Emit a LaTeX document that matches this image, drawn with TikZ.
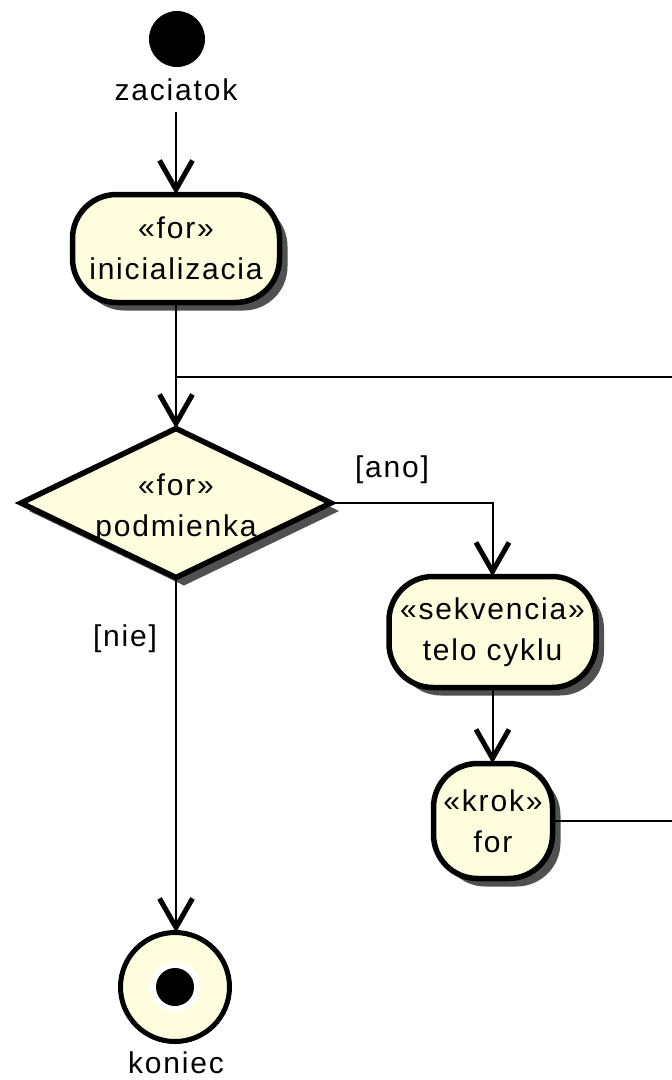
\documentclass[tikz,border=0pt]{standalone}
\usepackage{fontspec}
\setmainfont{Liberation Sans}[LetterSpace=6]
\usetikzlibrary{shapes.geometric,arrows.meta,shadows}

\definecolor{actfill}{HTML}{FEFEDF}
\definecolor{shadowgray}{HTML}{505050}

\begin{document}
\begin{tikzpicture}[x=1pt,y=-1pt,
  every node/.style={font=\fontsize{30}{41}\selectfont, inner sep=0pt, outer sep=0pt},
  conn/.style={line width=2pt, draw=black},
  arr/.style={conn, -{Straight Barb[length=29pt,width=33pt,line width=5pt]}},
  shadowed/.style={drop shadow={shadow xshift=8pt, shadow yshift=-8pt, fill=shadowgray, opacity=1}},
  action/.style={rectangle, rounded corners=44pt, draw, line width=5.5pt, fill=actfill,
    align=center, shadowed},
  decision/.style={diamond, aspect=2.08, draw, line width=5.5pt, fill=actfill,
    shadowed, minimum width=310pt, minimum height=149pt},
  lbl/.style={anchor=base}
]
% page and clipping frame
\useasboundingbox (0,0) rectangle (672,1080);
\fill[white] (0,0) rectangle (672,1080);
\clip (0,0) rectangle (672,1080);

% initial node
\node[circle, fill=black, minimum size=56pt] (start) at (177,39) {};
\node[lbl] (startlbl) at (176,100) {zaciatok};

% actions and decision
\node[action, minimum width=207pt, minimum height=108pt] (init) at (176,248.5)
  {«for»\\inicializacia};
\node[decision] (cond) at (176,503) {};
\node[align=center] (condtext) at (176,508) {«for»\\podmienka};
\node[action, minimum width=207pt, minimum height=111pt] (body) at (492.5,632)
  {«sekvencia»\\telo cyklu};
\node[action, minimum width=119pt, minimum height=115pt] (step) at (493,821)
  {«krok»\\for};

% final node
\node[circle, draw, line width=5pt, fill=actfill, minimum size=109pt,
  path picture={
    \fill[white] (path picture bounding box.center) circle (25pt);
    \fill[black] (path picture bounding box.center) circle (19pt);
  }] (final) at (175,987) {};
\node[lbl] (finallbl) at (176,1073) {koniec};

% guard labels
\node[lbl] (yes) at (392,477) {[ano]};
\node[lbl] (no) at (125,646) {[nie]};

% loop route back to the condition
\coordinate (loopR) at (700,377);
\coordinate (join) at (176,377);

% connectors
\draw[arr, shorten <=12pt] (startlbl.south) -- (init.north);
\draw[arr] (init.south) -- (cond.north);
\draw[arr] (cond.east) -| (body.north);
\draw[arr] (body.south) -- (body.south |- step.north);
\draw[conn] (step.east) -- (step.east -| loopR) -- (loopR) -- (join);
\draw[arr] (cond.south) -- (cond.south |- final.north);
\end{tikzpicture}
\end{document}
